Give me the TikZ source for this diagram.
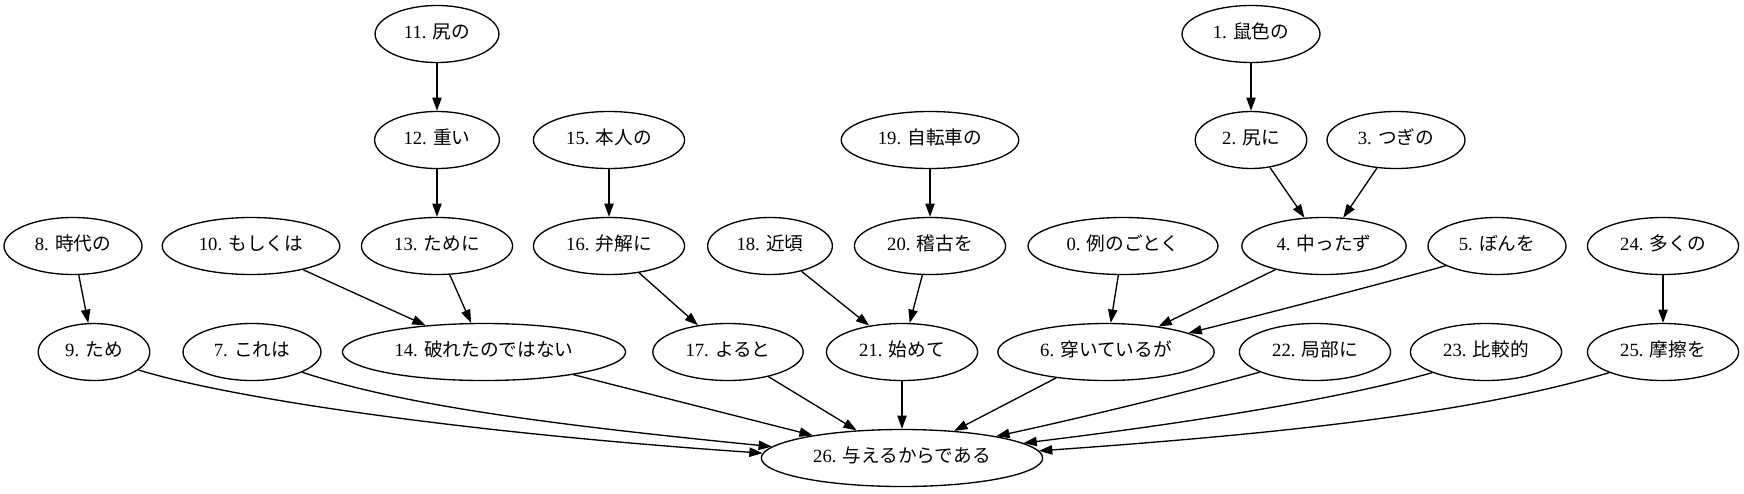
\documentclass[tikz,border=0pt]{standalone}
\usepackage{fontspec}
\setmainfont{Liberation Serif}
\newfontfamily\cjk{Noto Sans CJK JP}
\usetikzlibrary{arrows.meta,shapes.geometric}
\newcommand\J[1]{{\cjk #1}}
\begin{document}
\begin{tikzpicture}[x=0.75pt,y=0.75pt,
  nd/.style={draw, ellipse, line width=1pt, inner xsep=8pt, inner ysep=0pt,
    minimum height=42.75pt, text height=9pt, text depth=3pt,
    font=\fontsize{14pt}{16pt}\selectfont},
  ed/.style={line width=1pt, -{Triangle[length=10pt,width=7pt]}}]
\useasboundingbox (0,0) rectangle (1744,-493);
% row 1
\node[nd] (n11) at (437,-34) {11. \J{尻の}};
\node[nd] (n1) at (1251,-34) {1. \J{鼠色の}};
% row 2
\node[nd] (n12) at (437,-140) {12. \J{重い}};
\node[nd] (n15) at (609,-140) {15. \J{本人の}};
\node[nd] (n19) at (930,-140) {19. \J{自転車の}};
\node[nd] (n2) at (1251,-140) {2. \J{尻に}};
\node[nd] (n3) at (1396,-140) {3. \J{つぎの}};
% row 3
\node[nd] (n8) at (73,-246) {8. \J{時代の}};
\node[nd] (n10) at (251,-246) {10. \J{もしくは}};
\node[nd] (n13) at (437,-246) {13. \J{ために}};
\node[nd] (n16) at (609,-246) {16. \J{弁解に}};
\node[nd] (n18) at (770,-246) {18. \J{近頃}};
\node[nd] (n20) at (930,-246) {20. \J{稽古を}};
\node[nd] (n0) at (1123,-246) {0. \J{例のごとく}};
\node[nd] (n4) at (1324,-246) {4. \J{中ったず}};
\node[nd] (n5) at (1497,-246) {5. \J{ぼんを}};
\node[nd] (n24) at (1663,-246) {24. \J{多くの}};
% row 4
\node[nd] (n9) at (94,-352) {9. \J{ため}};
\node[nd] (n7) at (252,-352) {7. \J{これは}};
\node[nd] (n14) at (484,-352) {14. \J{破れたのではない}};
\node[nd] (n17) at (728,-352) {17. \J{よると}};
\node[nd] (n21) at (902,-352) {21. \J{始めて}};
\node[nd] (n6) at (1106,-352) {6. \J{穿いているが}};
\node[nd] (n22) at (1315,-352) {22. \J{局部に}};
\node[nd] (n23) at (1486,-352) {23. \J{比較的}};
\node[nd] (n25) at (1663,-352) {25. \J{摩擦を}};
% row 5
\node[nd] (n26) at (902,-458) {26. \J{与えるからである}};
% straight edges
\draw[ed] (n11) -- (n12);
\draw[ed] (n12) -- (n13);
\draw[ed] (n15) -- (n16);
\draw[ed] (n19) -- (n20);
\draw[ed] (n1) -- (n2);
\draw[ed] (n24) -- (n25);
\draw[ed] (n2) -- (n4);
\draw[ed] (n3) -- (n4);
\draw[ed] (n8) -- (n9);
\draw[ed] (n10) -- (n14);
\draw[ed] (n13) -- (n14);
\draw[ed] (n16) -- (n17);
\draw[ed] (n18) -- (n21);
\draw[ed] (n20) -- (n21);
\draw[ed] (n0) -- (n6);
\draw[ed] (n4) -- (n6);
\draw[ed] (n14) -- (n26);
\draw[ed] (n17) -- (n26);
\draw[ed] (n21) -- (n26);
\draw[ed] (n6) -- (n26);
% curved edges
\draw[ed] (n5.201) .. controls (1389,-282) and (1245,-319) .. (n6.13);
\draw[ed] (n9.-22) .. controls (233,-399) and (468,-433) .. (n26.178);
\draw[ed] (n7.-22) .. controls (397,-403) and (524,-422) .. (n26.175);
\draw[ed] (n22.200) .. controls (1203,-388) and (1094,-415) .. (n26.13);
\draw[ed] (n23.201) .. controls (1336,-400) and (1180,-424) .. (n26.7);
\draw[ed] (n25.201) .. controls (1492,-407) and (1336,-430) .. (n26.3);
\end{tikzpicture}
\end{document}
